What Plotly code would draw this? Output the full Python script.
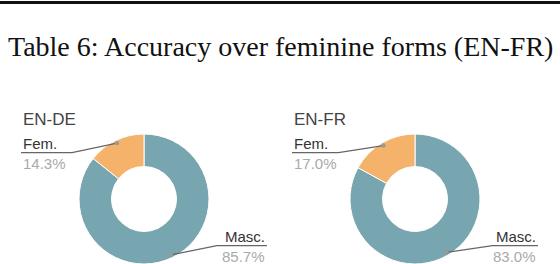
import math
import plotly.graph_objects as go

W, H = 560, 264

# ---- data ----
panel_titles = ["EN-DE", "EN-FR"]
categories = ["Fem.", "Masc."]
fem_values = [14.3, 17.0]
masc_values = [85.7, 83.0]
caption = "Table 6: Accuracy over feminine forms (EN-FR)"

# ---- style ----
slice_colors = {"Fem.": "#F5B26B", "Masc.": "#78A6B0"}
centers_x = [144, 415]
center_y = 199
radius = 65
hole = 0.5


def px(x):
    return x / W


def py(y):
    return 1 - y / H


fig = go.Figure()
shapes = []
annotations = []

# top rule
shapes.append(dict(type="line", xref="paper", yref="paper", x0=0, x1=1,
                   y0=py(2.5), y1=py(2.5), line=dict(color="#111", width=3)))

annotations.append(dict(text=caption, xref="paper", yref="paper",
                        x=px(280.5), y=py(47), xanchor="center", yanchor="middle",
                        showarrow=False,
                        font=dict(family="Liberation Serif, Times New Roman, serif",
                                  size=28, color="#111")))

for i, title in enumerate(panel_titles):
    cx = centers_x[i]
    vals = [fem_values[i], masc_values[i]]
    # plotly draws the first slice clockwise from 12 o'clock; list Masc first
    order = categories[::-1]
    order_vals = vals[::-1]
    fig.add_trace(go.Pie(
        labels=order, values=order_vals, sort=False, direction="clockwise",
        rotation=0, hole=hole, textinfo="none", hoverinfo="label+percent",
        marker=dict(colors=[slice_colors[c] for c in order],
                    line=dict(color="white", width=1)),
        domain=dict(x=[px(cx - radius), px(cx + radius)], y=[0, py(center_y - radius)]),
        showlegend=False,
    ))
    annotations.append(dict(text=title, xref="paper", yref="paper",
                            x=px(cx - 123), y=py(119.5), xanchor="left", yanchor="middle",
                            showarrow=False,
                            font=dict(family="Liberation Sans, Arial, sans-serif",
                                      size=17, color="#444")))
    total = sum(vals)
    cum = 0
    for j, (cat, v) in enumerate(zip(categories, vals)):
        # angle measured counterclockwise from 12 o'clock
        mid = (cum + v / 2) / total * 2 * math.pi
        cum += v
        r_dot = radius * 0.955
        dx = -math.sin(mid) * r_dot
        dy = -math.cos(mid) * r_dot
        dot_x, dot_y = cx + dx, center_y + dy
        pct = f"{v / total * 100:.1f}%"
        if j == 0:
            line_y = 152.7
            elbow_x = dot_x - 45
            end_x = cx - 123
            lab_y, pct_y = 143, 163.5
            anchor = "left"
        else:
            line_y = 245.7
            elbow_x = dot_x + 46
            end_x = cx + 123
            lab_y, pct_y = 236, 256
            anchor = "right"
        tx = end_x
        path = (f"M {px(dot_x)},{py(dot_y)} L {px(elbow_x)},{py(line_y)} "
                f"L {px(end_x)},{py(line_y)}")
        shapes.append(dict(type="path", xref="paper", yref="paper", path=path,
                           line=dict(color="#666", width=1.2)))
        rr = 2.2
        shapes.append(dict(type="circle", xref="paper", yref="paper",
                           x0=px(dot_x - rr), x1=px(dot_x + rr),
                           y0=py(dot_y + rr), y1=py(dot_y - rr),
                           fillcolor="#999", line=dict(width=0)))
        annotations.append(dict(text=cat, xref="paper", yref="paper",
                                x=px(tx), y=py(lab_y), xanchor=anchor, yanchor="middle",
                                showarrow=False,
                                font=dict(family="Liberation Sans, Arial, sans-serif",
                                          size=15, color="#333")))
        annotations.append(dict(text=pct, xref="paper", yref="paper",
                                x=px(tx), y=py(pct_y), xanchor=anchor, yanchor="middle",
                                showarrow=False,
                                font=dict(family="Liberation Sans, Arial, sans-serif",
                                          size=15, color="#aaa")))

fig.update_layout(width=W, height=H, margin=dict(l=0, r=0, t=0, b=0),
                  paper_bgcolor="white", plot_bgcolor="white",
                  shapes=shapes, annotations=annotations)

fig.write_html("out.html", config={"displayModeBar": False},
               post_script="document.body.style.margin='0';")
